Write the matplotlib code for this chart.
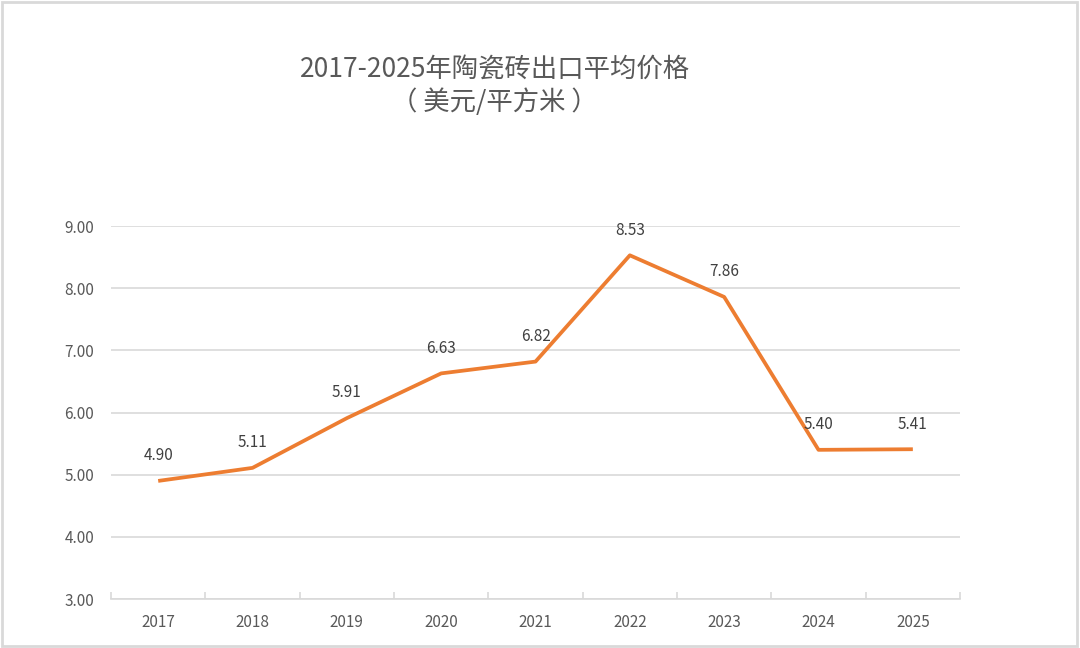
import matplotlib.pyplot as plt
from matplotlib.patches import Rectangle

plt.rcParams['font.family'] = ['Noto Sans CJK SC', 'DejaVu Sans']

# data
years = ['2017', '2018', '2019', '2020', '2021', '2022', '2023', '2024', '2025']
prices = [4.90, 5.11, 5.91, 6.63, 6.82, 8.53, 7.86, 5.40, 5.41]
y_ticks = [3, 4, 5, 6, 7, 8, 9]

grey = '#595959'
orange = '#ED7D31'

fig = plt.figure(figsize=(10.8, 6.48), dpi=100)
ax = fig.add_axes([0.1028, 0.0756, 0.7861, 0.5755])

x = list(range(len(years)))
ax.plot(x, prices, color=orange, linewidth=2.7, solid_capstyle='butt', zorder=3)

# value labels above each point
for i, v in enumerate(prices):
    ax.annotate('%.2f' % v, (i, v), xytext=(0, 12), textcoords='offset points',
                ha='center', va='bottom', fontsize=11, color='#404040')

ax.set_xlim(-0.5, len(years) - 0.5)
ax.set_ylim(3, 9)
ax.set_yticks(y_ticks)
ax.set_yticklabels(['%.2f' % t for t in y_ticks])
ax.set_xticks(x)
ax.set_xticklabels(years)
ax.grid(axis='y', color='#d9d9d9', linewidth=1.2)
ax.set_axisbelow(True)

for s in ['top', 'right', 'left']:
    ax.spines[s].set_visible(False)
ax.spines['bottom'].set_color('#d9d9d9')
ax.spines['bottom'].set_linewidth(1.2)

# category boundary ticks on the x axis
ax.set_xticks([i - 0.5 for i in range(len(years) + 1)], minor=True)
ax.tick_params(axis='x', which='major', length=0, pad=11, labelsize=11, labelcolor=grey)
ax.tick_params(axis='x', which='minor', length=5, direction='in', color='#d9d9d9', width=1.2)
ax.tick_params(axis='y', length=0, pad=12, labelsize=11, labelcolor=grey)

fig.text(0.458, 0.893, '2017-2025年陶瓷砖出口平均价格', ha='center', va='center',
         fontsize=19, color=grey)
fig.text(0.458, 0.843, '（ 美元/平方米 ）', ha='center', va='center',
         fontsize=19, color=grey)

# light border round the picture
fig.patches.append(Rectangle((0.002, 0.003), 0.995, 0.994, transform=fig.transFigure,
                             fill=False, edgecolor='#d9d9d9', linewidth=2))

fig.savefig('out.png', dpi=100)
